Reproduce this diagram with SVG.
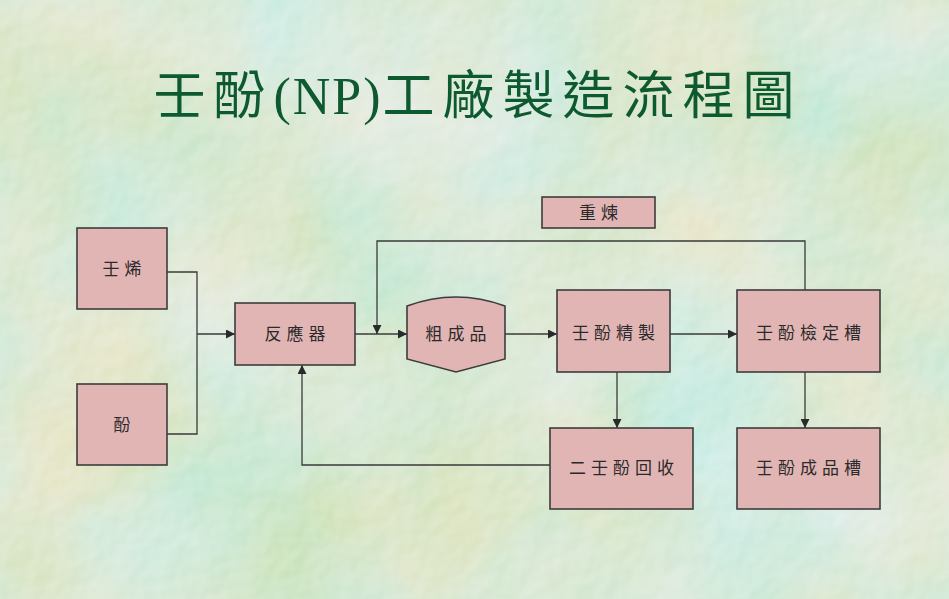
<svg xmlns="http://www.w3.org/2000/svg" width="949" height="599" viewBox="0 0 949 599">
<defs>
<style>
.box{fill:#e2b5b5;stroke:#3c3c3c;stroke-width:1.6}
.lbl{font-family:"Noto Sans CJK TC","Noto Sans CJK SC",sans-serif;font-size:17px;fill:#2a2a2a;text-anchor:middle;letter-spacing:5px}
.edge{fill:none;stroke:#3a3a3a;stroke-width:1.3}
.title{font-family:"Liberation Serif","Noto Sans CJK TC",serif;font-size:52px;fill:#0e5a30;text-anchor:middle;letter-spacing:8px}
</style>
<marker id="arr" viewBox="0 0 10 10" refX="10" refY="5" markerWidth="9" markerHeight="9" markerUnits="userSpaceOnUse" orient="auto">
<path d="M0,0 L10,5 L0,10 Z" fill="#2a2a2a"/>
</marker>
<filter id="mottle" x="0" y="0" width="100%" height="100%">
<feTurbulence type="fractalNoise" baseFrequency="0.005" numOctaves="3" seed="7"/>
<feColorMatrix type="matrix" values="0.45 0 0 0 0.44  0 0.12 0 0 0.74  0 0.5 0 0 0.39  0 0 0 0 1"/>
</filter>
<filter id="grain" x="0" y="0" width="100%" height="100%">
<feTurbulence type="fractalNoise" baseFrequency="0.05" numOctaves="2" seed="3" result="n"/>
<feDiffuseLighting in="n" surfaceScale="2.5" lighting-color="#ffffff" result="l">
<feDistantLight azimuth="225" elevation="45"/>
</feDiffuseLighting>
<feColorMatrix in="l" type="matrix" values="0 0 0 0 1  0 0 0 0 1  0 0 0 0 1  1 0 0 0 -0.55"/>
</filter>
</defs>
<rect width="949" height="599" fill="#b6d4a6"/>
<rect width="949" height="599" filter="url(#mottle)"/>
<rect width="949" height="599" filter="url(#grain)" opacity="0.6"/>
<text class="title" x="478" y="114">壬酚<tspan letter-spacing="2px">(NP)</tspan>工廠製造流程圖</text>
<g id="connectors">
<polyline class="edge" points="167,272 197,272 197,434 167,434"/>
<line class="edge" x1="197" y1="334" x2="235" y2="334" marker-end="url(#arr)"/>
<line class="edge" x1="355" y1="334" x2="407" y2="334" marker-end="url(#arr)"/>
<line class="edge" x1="505" y1="334" x2="557" y2="334" marker-end="url(#arr)"/>
<line class="edge" x1="670" y1="334" x2="737" y2="334" marker-end="url(#arr)"/>
<polyline class="edge" points="805,290 805,241 377,241 377,334" marker-end="url(#arr)"/>
<line class="edge" x1="617" y1="372" x2="617" y2="428" marker-end="url(#arr)"/>
<line class="edge" x1="805" y1="372" x2="805" y2="428" marker-end="url(#arr)"/>
<polyline class="edge" points="550,465 302,465 302,365" marker-end="url(#arr)"/>
</g>
<g id="n-nonene"><rect class="box" x="77" y="228" width="90" height="81"/><text class="lbl" x="124.5" y="275">壬烯</text></g>
<g id="n-phenol"><rect class="box" x="77" y="384" width="90" height="81"/><text class="lbl" x="124.5" y="431">酚</text></g>
<g id="n-reactor"><rect class="box" x="235" y="303" width="120" height="62"/><text class="lbl" x="297.5" y="340">反應器</text></g>
<g id="n-crude"><path class="box" d="M407,306 Q456,288 505,306 L505,359 L456,372 L407,359 Z"/><text class="lbl" x="458.5" y="340">粗成品</text></g>
<g id="n-rerefine"><rect class="box" x="542" y="197" width="113" height="31"/><text class="lbl" x="601" y="219">重煉</text></g>
<g id="n-refine"><rect class="box" x="557" y="290" width="113" height="82"/><text class="lbl" x="616" y="339">壬酚精製</text></g>
<g id="n-recover"><rect class="box" x="550" y="428" width="143" height="81"/><text class="lbl" x="624" y="474">二壬酚回收</text></g>
<g id="n-check"><rect class="box" x="737" y="290" width="143" height="82"/><text class="lbl" x="811" y="339">壬酚檢定槽</text></g>
<g id="n-product"><rect class="box" x="737" y="428" width="143" height="81"/><text class="lbl" x="811" y="474">壬酚成品槽</text></g>
</svg>
